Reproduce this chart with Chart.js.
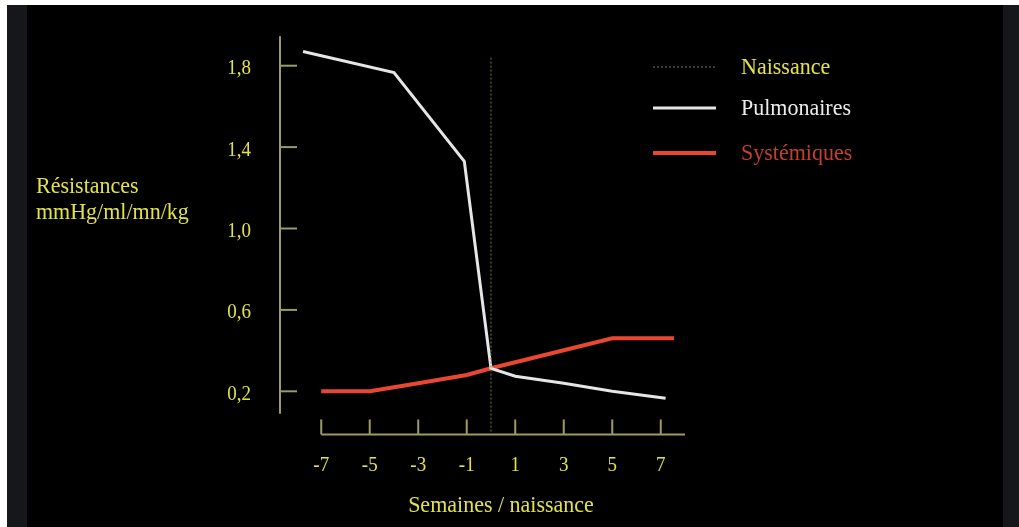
<!DOCTYPE html>
<html>
<head>
<meta charset="utf-8">
<script src="https://cdn.jsdelivr.net/npm/chart.js@4.4.1/dist/chart.umd.min.js"></script>
<style>
  html, body { margin: 0; padding: 0; background: #ffffff; width: 1019px; height: 527px; overflow: hidden; }
  #frame { position: absolute; left: 7px; top: 5px; width: 1012px; height: 522px; background: #16171b; }
  #panel { position: absolute; left: 27px; top: 5px; width: 976px; height: 522px; background: #000000; }
  #wrap { position: absolute; left: 0; top: 0; width: 1019px; height: 527px; }
</style>
</head>
<body>
<div id="frame"></div>
<div id="panel"></div>
<div id="wrap"><canvas id="c" width="1019" height="527"></canvas></div>
<script>
// ---- data ----
const pulmX = [-7.75, -4, -1.1, 0, 1, 3, 5, 7.2];
const pulmY = [1.87, 1.766, 1.33, 0.313, 0.274, 0.24, 0.2, 0.166];
const systX = [-7, -5, -3, -1, 0, 5, 7.55];
const systY = [0.2, 0.2, 0.24, 0.28, 0.313, 0.461, 0.461];
const birthX = [0, 0];
const birthY = [1.84, -0.01];
const yTickValues = [1.8, 1.4, 1.0, 0.6, 0.2];
const yTickLabels = ['1,8', '1,4', '1,0', '0,6', '0,2'];
const xTickValues = [-7, -5, -3, -1, 1, 3, 5, 7];
const xTickLabels = ['-7', '-5', '-3', '-1', '1', '3', '5', '7'];
const legendLabels = ['Naissance', 'Pulmonaires', 'Systémiques'];
const xTitle = 'Semaines / naissance';
const yTitle = ['Résistances', 'mmHg/ml/mn/kg'];

const YELLOW = '#e2e24a';
const AXIS = '#9c9c62';
const WHITE = '#e6e6e6';
const RED = '#e8482f';
const FONT = '"Liberation Serif", "DejaVu Serif", serif';

const toPts = (xs, ys) => xs.map((x, i) => ({ x: x, y: ys[i] }));

function tallText(ctx, text, x, y, sy) {
  ctx.save();
  ctx.translate(x, y);
  ctx.scale(1, sy);
  ctx.fillText(text, 0, 0);
  ctx.restore();
}

const axesPlugin = {
  id: 'customAxes',
  afterDatasetsDraw(chart) {
    const ctx = chart.ctx;
    const xs = chart.scales.x, ys = chart.scales.y;
    ctx.save();
    // Y axis
    const yx = xs.getPixelForValue(-8.7);
    ctx.strokeStyle = AXIS;
    ctx.lineWidth = 2;
    ctx.beginPath();
    ctx.moveTo(yx, ys.getPixelForValue(1.945));
    ctx.lineTo(yx, ys.getPixelForValue(0.09));
    ctx.stroke();
    ctx.font = '19px ' + FONT;
    ctx.fillStyle = YELLOW;
    ctx.textAlign = 'right';
    ctx.textBaseline = 'middle';
    yTickValues.forEach((v, i) => {
      const py = ys.getPixelForValue(v);
      ctx.beginPath();
      ctx.moveTo(yx, py);
      ctx.lineTo(yx + 17, py);
      ctx.stroke();
      tallText(ctx, yTickLabels[i], yx - 29, py + 3, 1.1);
    });
    // X axis
    const ay = ys.getPixelForValue(-0.012);
    ctx.beginPath();
    ctx.moveTo(xs.getPixelForValue(-7), ay);
    ctx.lineTo(xs.getPixelForValue(8), ay);
    ctx.stroke();
    ctx.textAlign = 'center';
    ctx.textBaseline = 'middle';
    xTickValues.forEach((v, i) => {
      const px = xs.getPixelForValue(v);
      ctx.beginPath();
      ctx.moveTo(px, ay);
      ctx.lineTo(px, ay - 15);
      ctx.stroke();
      tallText(ctx, xTickLabels[i], px, ay + 31, 1.1);
    });
    // titles
    ctx.font = '22px ' + FONT;
    tallText(ctx, xTitle, 501, 506, 1.05);
    ctx.textAlign = 'left';
    tallText(ctx, yTitle[0], 36, 187, 1.05);
    tallText(ctx, yTitle[1], 36, 213, 1.05);
    // legend
    const ds = chart.data.datasets;
    const legendY = [67, 108, 153];
    const textColors = [YELLOW, '#ececec', '#c2402f'];
    ds.forEach((d, i) => {
      ctx.save();
      ctx.strokeStyle = d.borderColor;
      ctx.lineWidth = d.borderWidth;
      ctx.setLineDash(d.borderDash || []);
      ctx.beginPath();
      ctx.moveTo(653, legendY[i]);
      ctx.lineTo(716, legendY[i]);
      ctx.stroke();
      ctx.restore();
      ctx.font = '22px ' + FONT;
      ctx.fillStyle = textColors[i];
      ctx.textAlign = 'left';
      tallText(ctx, d.label, 741, legendY[i] + 1, 1.05);
    });
    ctx.restore();
  }
};

new Chart(document.getElementById('c'), {
  type: 'line',
  data: {
    datasets: [
      { label: legendLabels[0], data: toPts(birthX, birthY), borderColor: '#7a7a4a', borderWidth: 1, borderDash: [2, 2], pointRadius: 0, fill: false },
      { label: legendLabels[1], data: toPts(pulmX, pulmY), borderColor: WHITE, borderWidth: 3, pointRadius: 0, fill: false, tension: 0 },
      { label: legendLabels[2], data: toPts(systX, systY), borderColor: RED, borderWidth: 4, pointRadius: 0, fill: false, tension: 0 }
    ]
  },
  options: {
    responsive: false,
    animation: false,
    events: [],
    layout: { padding: { left: 280, right: 334, top: 25, bottom: 95 } },
    plugins: { legend: { display: false }, tooltip: { enabled: false }, title: { display: false } },
    scales: {
      x: { type: 'linear', min: -8.7, max: 8, display: false },
      y: { type: 'linear', min: 0, max: 2.0, display: false }
    }
  },
  plugins: [axesPlugin]
});
</script>
</body>
</html>
